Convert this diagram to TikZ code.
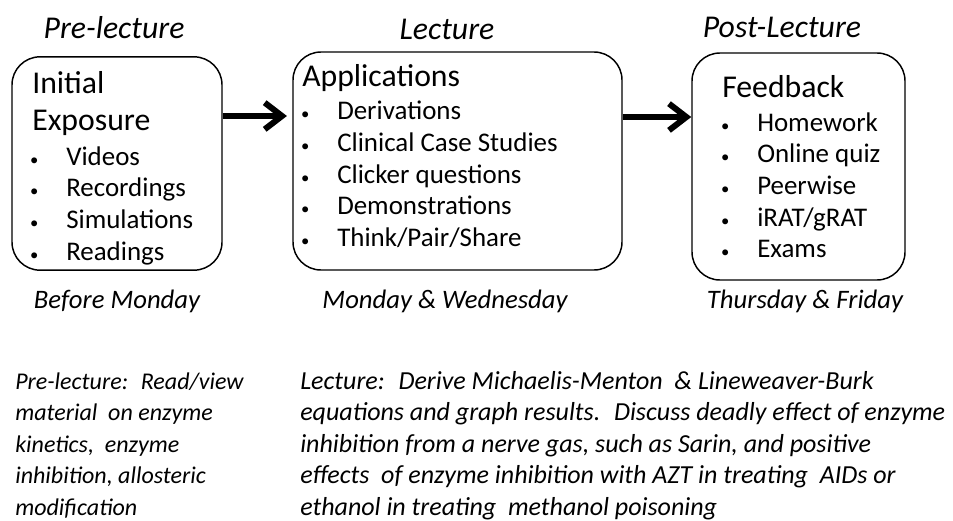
\documentclass[tikz,border=0pt]{standalone}
\usepackage{fontspec}
\setmainfont{Carlito}
\usetikzlibrary{arrows.meta,positioning}

\tikzset{
  phase/.style={draw, rounded corners=21pt, line width=1.1pt},
  title/.style={font=\fontsize{23.8}{28}\selectfont\itshape, anchor=base, inner sep=0pt},
  head/.style={font=\fontsize{23.8}{28}\selectfont, anchor=base west, inner sep=0pt},
  item/.style={font=\fontsize{20.2}{24}\selectfont, anchor=base west, inner sep=0pt},
  day/.style={font=\fontsize{20}{24}\selectfont\itshape, anchor=base, inner sep=0pt},
  note/.style={font=\fontsize{19.5}{23.6}\selectfont\itshape, anchor=base west, align=left, inner sep=0pt},
  flow/.style={line width=4.5pt, -{Straight Barb[length=13pt,width=20pt]}}
}
\newcommand{\bul}{\llap{{\fontsize{12.5}{12.5}\selectfont\textbullet}\hspace{20.8pt}}}

\begin{document}
\begin{tikzpicture}[x=0.75pt, y=-0.75pt]
    \useasboundingbox (0,0) rectangle (953,521);

    % the three phases
    \node[phase, minimum width=157.5pt, minimum height=160pt] (pre) at (117,163.5) {};
    \node[phase, minimum width=246.75pt, minimum height=163.5pt] (lec) at (457.5,161) {};
    \node[phase, minimum width=159.75pt, minimum height=170.25pt] (post) at (798.5,166.5) {};

    \node[title] (pre-t) at (114,38) {Pre-lecture};
    \node[title] (lec-t) at (447,39) {Lecture};
    \node[title] (post-t) at (782,37.5) {Post-Lecture};

    % box contents
    \node[head] (pre-h1) at (32,93) {Initial};
    \node[head] (pre-h2) at (32,130) {Exposure};
    \foreach \t [count=\i] in {Videos,Recordings,Simulations,Readings}
        \node[item] (pre-\i) at (66,133.3+31.7*\i) {\bul\t};

    \node[head] (lec-h) at (302,86) {Applications};
    \foreach \t [count=\i] in {Derivations,Clinical Case Studies,Clicker questions,Demonstrations,Think/Pair/Share}
        \node[item] (lec-\i) at (337,88+31.7*\i) {\bul\t};

    \node[head] (post-h) at (722,97) {Feedback};
    \foreach \t [count=\i] in {Homework,Online quiz,Peerwise,iRAT/gRAT,Exams}
        \node[item] (post-\i) at (757,99.3+31.7*\i) {\bul\t};

    % arrows
    \coordinate (row1) at (0,116);
    \coordinate (row2) at (0,117);
    \draw[flow, shorten >=4pt] (pre.east |- row1) -- (lec.west |- row1);
    \draw[flow] (lec.east |- row2) -- (post.west |- row2);

    % days
    \node[day] (pre-d) at (117,308) {Before Monday};
    \node[day] (lec-d) at (445,308) {Monday \& Wednesday};
    \node[day] (post-d) at (805,308) {Thursday \& Friday};

    % notes (anchored on the last line)
    \node[note, font=\fontsize{18}{23.6}\selectfont\itshape] (pre-n) at (15,515) {Pre-lecture:~ Read/view\\ material~ on enzyme\\ kinetics,~ enzyme\\ inhibition, allosteric\\ modification};
    \node[note] (lec-n) at (300,515) {Lecture:~ Derive Michaelis-Menton~ \& Lineweaver-Burk\\ equations and graph results.~ Discuss deadly effect of enzyme\\ inhibition from a nerve gas, such as Sarin, and positive\\ effects~ of enzyme inhibition with AZT in treating~ AIDs or\\ ethanol in treating~ methanol poisoning};
\end{tikzpicture}
\end{document}
